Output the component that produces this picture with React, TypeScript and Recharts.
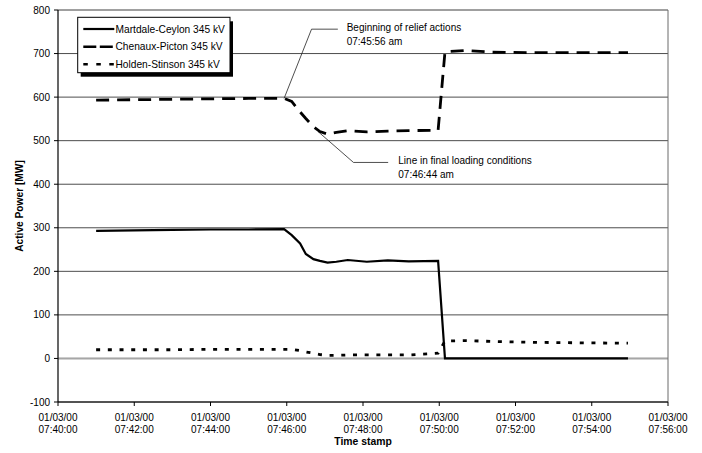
import React from "react";
import { CartesianGrid, Line, LineChart, ReferenceLine, XAxis, YAxis } from "recharts";

const FONT = '"Liberation Sans", Arial, sans-serif';

// minutes after 07:40:00 on 01/03/00
const minutes = [1.0, 2.0, 3.0, 4.0, 5.0, 5.93, 6.13, 6.35, 6.5, 6.7, 6.87, 7.07, 7.3, 7.6, 8.1, 8.65, 9.2, 9.97, 10.15, 10.7, 11.4, 12.5, 13.5, 14.95];

const martdaleCeylon = [293, 294, 295, 296, 296, 297, 283, 264, 240, 228, 224, 220, 222, 226, 222, 225, 223, 224, 0, 0, 0, 0, 0, 0];
const chenauxPicton = [593, 594, 595, 596, 597, 597, 590, 566, 551, 532, 521, 515, 519, 523, 520, 522, 523, 524, 704, 707, 703, 702, 702, 702];
const holdenStinson = [20, 20, 20, 21, 21, 21, 21, 18, 15, 12, 9, 7, 7, 8, 8, 8, 8, 12, 40, 41, 39, 37, 36, 35];

const seriesNames = ["Martdale-Ceylon 345 kV", "Chenaux-Picton 345 kV", "Holden-Stinson 345 kV"];

const xTicks = [0, 2, 4, 6, 8, 10, 12, 14, 16];
const xTickTimes = ["07:40:00", "07:42:00", "07:44:00", "07:46:00", "07:48:00", "07:50:00", "07:52:00", "07:54:00", "07:56:00"];
const yTicks = [-100, 0, 100, 200, 300, 400, 500, 600, 700, 800];

// annotation leader lines (data coords)
const reliefLeader = [
  { x: 5.93, y: 597 },
  { x: 6.65, y: 756 },
  { x: 7.34, y: 756 },
];
const finalLeader = [
  { x: 6.82, y: 521 },
  { x: 7.75, y: 450 },
  { x: 8.66, y: 450 },
];

const data = minutes.map((t, i) => ({
  t,
  mc: martdaleCeylon[i],
  cp: chenauxPicton[i],
  hs: holdenStinson[i],
}));

function TimeTick(props: any) {
  const { x, y, payload } = props;
  const i = xTicks.indexOf(payload.value);
  return (
    <text x={x} y={y} textAnchor="middle" fontSize={10} fill="#000" fontFamily={FONT}>
      <tspan x={x} dy={12.7}>01/03/00</tspan>
      <tspan x={x} dy={12.6}>{xTickTimes[i]}</tspan>
    </text>
  );
}

function Overlay() {
  const rows = [
    { y: 29, dash: undefined, w: 2.2 },
    { y: 46.7, dash: "13 3.5", w: 2.6 },
    { y: 64.3, dash: "4.5 8.5", w: 2.6 },
  ];
  return (
    <svg
      width={702}
      height={453}
      style={{ position: "absolute", left: 0, top: 0, pointerEvents: "none" }}
      fontFamily={FONT}
    >
      {/* legend */}
      <rect x={80.7} y={21.3} width={152.3} height={55.4} fill="#000" />
      <rect x={77.7} y={17.3} width={152.3} height={55.4} fill="#fff" stroke="#000" strokeWidth={1} />
      {rows.map((r, i) => (
        <g key={seriesNames[i]}>
          <line x1={83.3} x2={114.3} y1={r.y} y2={r.y} stroke="#000" strokeWidth={r.w} strokeDasharray={r.dash} />
          <text x={115.5} y={r.y + 3.6} fontSize={10.2} fill="#000">
            {seriesNames[i]}
          </text>
        </g>
      ))}

      {/* annotations */}
      <text x={346.7} y={31} fontSize={10} fill="#000">Beginning of relief actions</text>
      <text x={346.7} y={45} fontSize={10} fill="#000">07:45:56 am</text>
      <text x={398.3} y={164.3} fontSize={10} fill="#000">Line in final loading conditions</text>
      <text x={398.3} y={177.7} fontSize={10} fill="#000">07:46:44 am</text>

      {/* axis titles */}
      <text x={363} y={445} fontSize={10.4} fontWeight="bold" textAnchor="middle" fill="#000">
        Time stamp
      </text>
      <text
        x={23}
        y={206}
        fontSize={10.2}
        fontWeight="bold"
        textAnchor="middle"
        fill="#000"
        transform="rotate(-90 23 206)"
      >
        Active Power [MW]
      </text>
    </svg>
  );
}

export default function App() {
  return (
    <div style={{ position: "absolute", left: 0, top: 0, width: 702, height: 453, background: "#fff" }}>
      <LineChart width={702} height={453} data={data} margin={{ top: 10, right: 34, left: 0, bottom: 0 }}>
        <CartesianGrid horizontal vertical={false} stroke="#4d4d4d" strokeWidth={1} />
        <XAxis
          dataKey="t"
          type="number"
          domain={[0, 16]}
          ticks={xTicks}
          height={51}
          tickSize={4}
          tickMargin={2}
          tick={<TimeTick />}
          axisLine={{ stroke: "#000", strokeWidth: 1.2 }}
          tickLine={{ stroke: "#000" }}
          interval={0}
        />
        <YAxis
          type="number"
          domain={[-100, 800]}
          ticks={yTicks}
          width={58}
          tickSize={4}
          tickMargin={4}
          tick={{ fontSize: 10, fill: "#000", fontFamily: FONT }}
          axisLine={{ stroke: "#000", strokeWidth: 1.2 }}
          tickLine={{ stroke: "#000" }}
          interval={0}
        />
        <ReferenceLine y={0} stroke="#a6a6a6" strokeWidth={2} />
        <ReferenceLine y={800} stroke="#9a9a9a" strokeWidth={1} />
        <ReferenceLine x={16} stroke="#6b6b6b" strokeWidth={1} />
        <ReferenceLine segment={[reliefLeader[0], reliefLeader[1]]} stroke="#222" strokeWidth={0.8} />
        <ReferenceLine segment={[reliefLeader[1], reliefLeader[2]]} stroke="#222" strokeWidth={0.8} />
        <ReferenceLine segment={[finalLeader[0], finalLeader[1]]} stroke="#222" strokeWidth={0.8} />
        <ReferenceLine segment={[finalLeader[1], finalLeader[2]]} stroke="#222" strokeWidth={0.8} />
        <Line type="linear" dataKey="mc" stroke="#000" strokeWidth={2.2} dot={false} isAnimationActive={false} />
        <Line
          type="linear"
          dataKey="cp"
          stroke="#000"
          strokeWidth={2.8}
          strokeDasharray="13 8"
          dot={false}
          isAnimationActive={false}
        />
        <Line
          type="linear"
          dataKey="hs"
          stroke="#000"
          strokeWidth={2.8}
          strokeDasharray="4 7.7"
          dot={false}
          isAnimationActive={false}
        />
      </LineChart>
      <Overlay />
    </div>
  );
}
